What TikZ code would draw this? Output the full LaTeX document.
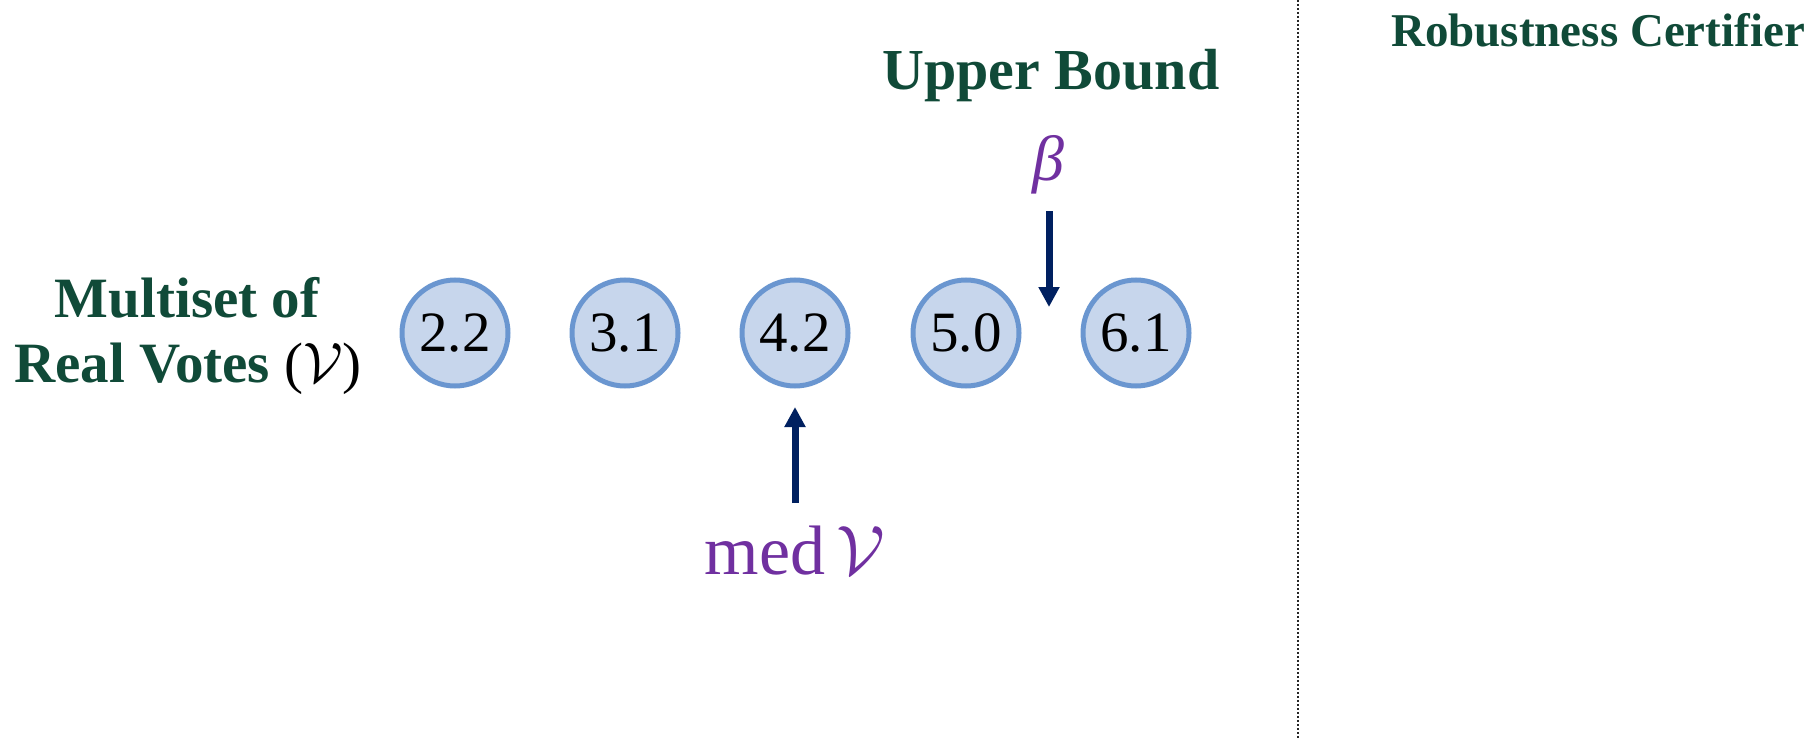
\RequirePackage{fix-cm}
\documentclass[tikz,border=0pt]{standalone}
\usepackage{fontspec}
\setmainfont{Liberation Serif}
\usetikzlibrary{arrows.meta}
\definecolor{headgreen}{HTML}{104A38}
\definecolor{valpurple}{HTML}{7030A0}
\definecolor{arrnavy}{HTML}{002060}
\definecolor{votefill}{HTML}{C7D6EC}
\definecolor{votedraw}{HTML}{6A96D0}
\tikzset{
  vote/.style={circle, draw=votedraw, fill=votefill, line width=5pt,
    minimum size=106pt, inner sep=0pt, font=\fontsize{57}{57}\selectfont},
  head/.style={text=headgreen, font=\bfseries\fontsize{57}{60}\selectfont, inner sep=0pt, anchor=base},
  valtext/.style={text=valpurple, inner sep=0pt},
  pointer/.style={draw=arrnavy, line width=7pt, -{Triangle[width=20pt,length=20pt]}},
  divider/.style={draw=black!85, line width=2pt, dash pattern=on 2pt off 2pt}
}
\begin{document}
\begin{tikzpicture}[x=1pt,y=-1pt]
\useasboundingbox (0,0) rectangle (1814,738);
% left labels
\node[head] (lbl1) at (187,317) {Multiset of};
\node[head] (lbl2) at (188,382) {Real Votes {\mdseries\color{black}($\mathcal{V}$)}};
% votes
\node[vote] (v1) at (455,333) {2.2};
\node[vote] (v2) at (625,333) {3.1};
\node[vote] (v3) at (795,333) {4.2};
\node[vote] (v4) at (966,333) {5.0};
\node[vote] (v5) at (1136,333) {6.1};
% upper bound
\node[head, font=\bfseries\fontsize{58}{60}\selectfont] (ub) at (1051,90) {Upper Bound};
\node[valtext, font=\itshape\fontsize{64}{64}\selectfont] (beta) at (1048,165) {β};
\coordinate (ubs) at (1049,211);
\coordinate (ube) at (1049,307);
\draw[pointer] (ubs) -- (ube);
% median
\coordinate (mds) at (795,503);
\coordinate (mde) at (795,407);
\draw[pointer] (mds) -- (mde);
\node[valtext, anchor=base, font=\fontsize{70}{70}\selectfont] (med) at (795,574) {med\,$\mathcal{V}$};
% divider
\coordinate (dtop) at (1298,0);
\coordinate (dbot) at (1298,738);
\draw[divider] (dtop) -- (dbot);
% certifier
\node[head, font=\bfseries\fontsize{47}{50}\selectfont] (cert) at (1598,47) {Robustness Certifier};
\end{tikzpicture}
\end{document}
